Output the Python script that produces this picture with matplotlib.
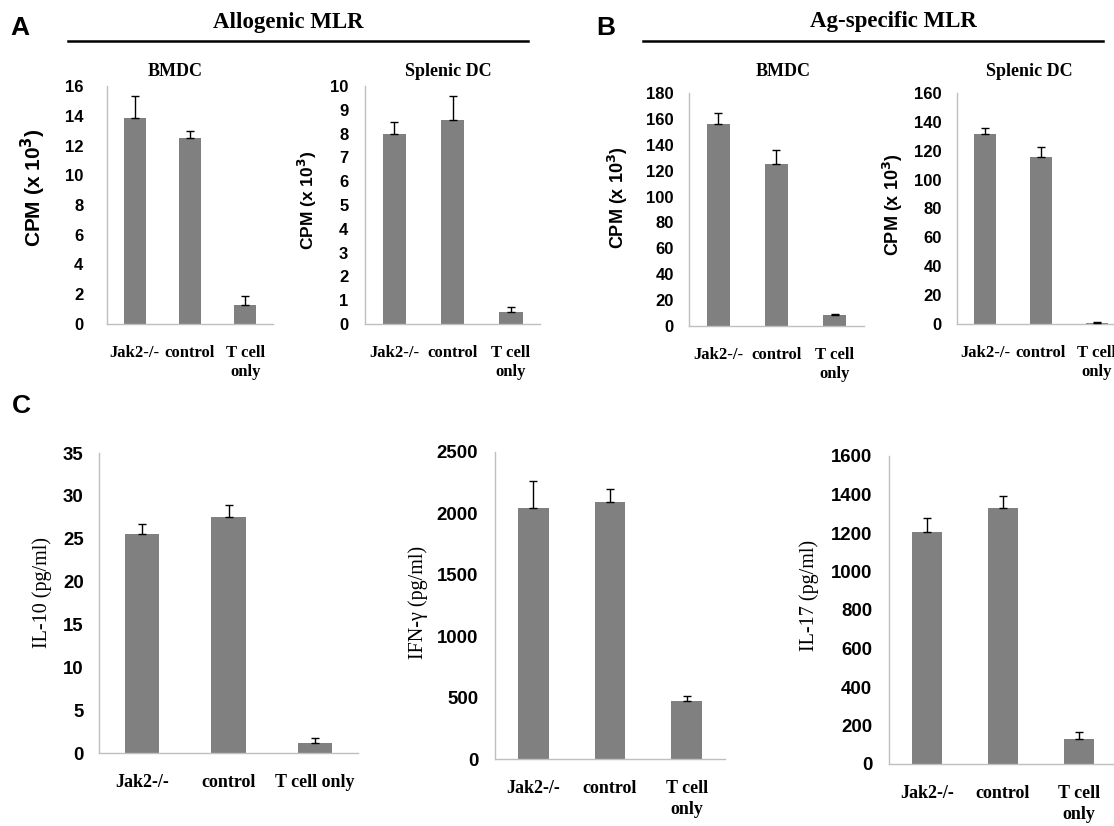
import numpy as np
import matplotlib.pyplot as plt
from matplotlib.lines import Line2D

# Data
groups_a = ['Jak2-/-', 'control', 'T cell\nonly']
groups_c1 = ['Jak2-/-', 'control', 'T cell only']
groups_c = ['Jak2-/-', 'control', 'T cell\nonly']

a_bmdc_mean = [13.87, 12.52, 1.26]
a_bmdc_err = [1.46, 0.45, 0.60]
a_spl_mean = [8.0, 8.58, 0.52]
a_spl_err = [0.47, 0.99, 0.19]

b_bmdc_mean = [156.0, 125.1, 8.3]
b_bmdc_err = [8.5, 11.0, 1.2]
b_spl_mean = [131.4, 115.9, 1.0]
b_spl_err = [4.6, 6.9, 0.3]

il10_mean = [25.6, 27.5, 1.17]
il10_err = [1.17, 1.44, 0.63]
ifng_mean = [2048, 2089, 476]
ifng_err = [216, 108, 33]
il17_mean = [1204, 1332, 130]
il17_err = [73, 60, 36]

W, H = 1114, 826
SANS = 'Liberation Sans'
SERIF = 'Liberation Serif'
BAR = '#808080'
SPINE = '#BFBFBF'

fig = plt.figure(figsize=(W / 100, H / 100), dpi=100)


def px_rect(x0, y0, x1, y1):
    return [x0 / W, 1 - y1 / H, (x1 - x0) / W, (y1 - y0) / H]


def fx(x):
    return x / W


def fy(y):
    return 1 - y / H


def panel(rect, means, errs, ymax, step, labels, tick_fs, xlab_fs, ypad, xpad):
    ax = fig.add_axes(px_rect(*rect))
    x = np.arange(len(means))
    ax.bar(x, means, width=0.4, color=BAR, zorder=2)
    ax.errorbar(x, means, yerr=[np.zeros(len(errs)), errs], fmt='none',
                ecolor='black', elinewidth=1, capsize=2.8, capthick=1, zorder=3)
    ax.set_xlim(-0.5, len(means) - 0.5)
    ax.set_ylim(0, ymax)
    ax.set_yticks(np.arange(0, ymax + step / 2, step))
    ax.set_xticks(x)
    ax.set_xticklabels(labels, fontfamily=SERIF, fontweight='bold', fontsize=xlab_fs,
                       linespacing=1.3)
    for t in ax.get_yticklabels():
        t.set_fontfamily(SANS)
        t.set_fontweight('bold')
        t.set_fontsize(tick_fs)
    ax.tick_params(axis='both', length=0)
    ax.tick_params(axis='y', pad=ypad)
    ax.tick_params(axis='x', pad=xpad)
    for s in ['top', 'right']:
        ax.spines[s].set_visible(False)
    for s in ['left', 'bottom']:
        ax.spines[s].set_color(SPINE)
        ax.spines[s].set_linewidth(1)
    return ax


# Panel A
panel((107, 86, 273, 324), a_bmdc_mean, a_bmdc_err, 16, 2, groups_a, 12, 12, 17, 15)
panel((365, 86, 540, 324), a_spl_mean, a_spl_err, 10, 1, groups_a, 12, 12, 12, 15)
# Panel B
panel((689, 93, 864, 326), b_bmdc_mean, b_bmdc_err, 180, 20, groups_a, 12, 12, 11, 15)
panel((957, 93, 1125, 324), b_spl_mean, b_spl_err, 160, 20, groups_a, 12, 12, 11, 15)
# Panel C
panel((99, 453, 358, 753), il10_mean, il10_err, 35, 5, groups_c1, 13.4, 13, 11, 15)
panel((495, 452, 725, 759), ifng_mean, ifng_err, 2500, 500, groups_c, 13.4, 13, 12, 15)
panel((889, 456, 1117, 764), il17_mean, il17_err, 1600, 200, groups_c, 13.4, 13, 12, 15)

# y labels
cpm = 'CPM (x 10$^{\\mathbf{3}}$)'
for x, y, fs in [(33, 188, 15), (307, 200, 12.5), (618, 198, 13), (893, 205, 13)]:
    fig.text(fx(x), fy(y), cpm, rotation=90, ha='center', va='center',
             fontfamily=SANS, fontweight='bold', fontsize=fs)
for x, y, lab in [(42, 592, 'IL-10 (pg/ml)'), (418, 602, 'IFN-\u03b3 (pg/ml)'),
                  (809, 595, 'IL-17 (pg/ml)')]:
    fig.text(fx(x), fy(y), lab, rotation=90, ha='center', va='center',
             fontfamily=SERIF, fontsize=14.5)

# subplot titles
for x, lab in [(175, 'BMDC'), (448, 'Splenic DC'), (783, 'BMDC'), (1029, 'Splenic DC')]:
    fig.text(fx(x), fy(76), lab, ha='center', va='baseline',
             fontfamily=SERIF, fontweight='bold', fontsize=13)

# group titles and rules
fig.text(fx(288), fy(28), 'Allogenic MLR', ha='center', va='baseline',
         fontfamily=SERIF, fontweight='bold', fontsize=16.5)
fig.text(fx(893), fy(27), 'Ag-specific MLR', ha='center', va='baseline',
         fontfamily=SERIF, fontweight='bold', fontsize=16.5)
fig.add_artist(Line2D([fx(68), fx(528)], [fy(41), fy(41)], color='black', lw=1.8))
fig.add_artist(Line2D([fx(643), fx(1103)], [fy(41), fy(41)], color='black', lw=1.8))

# panel letters
for x, y, lab in [(20, 35, 'A'), (606, 35, 'B'), (21, 413, 'C')]:
    fig.text(fx(x), fy(y), lab, ha='center', va='baseline',
             fontfamily=SANS, fontweight='bold', fontsize=19)

plt.savefig('out.png', dpi=100)
